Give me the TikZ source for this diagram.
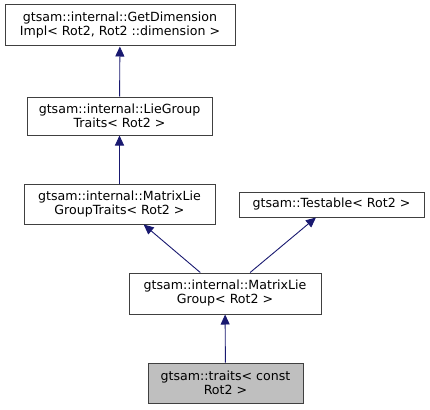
\documentclass[tikz,border=0pt]{standalone}
\usepackage{fontspec}
\setmainfont{DejaVu Sans}
\usepackage{xcolor}
\definecolor{gtBorder}{HTML}{404040}
\definecolor{gtEdge}{HTML}{191970}
\definecolor{gtFocus}{HTML}{BFBFBF}
\usepackage{tikz}
\usetikzlibrary{arrows.meta}
\tikzset{
    cls/.style={
        draw=gtBorder,
        fill=white,
        rectangle,
        align=center,
        line width=1pt,
        inner sep=0pt,
        font=\fontsize{12.6}{14}\selectfont
    },
    focus/.style={
        cls,
        fill=gtFocus
    },
    inherit/.style={
        <-,
        >={Triangle[length=10pt,width=9pt]},
        line width=0.9pt,
        color=gtEdge
    }
}
\begin{document}
\begin{tikzpicture}[x=1pt,y=-1pt]
    \useasboundingbox (0,0) rectangle (430,409);
    % Base classes
    \node[cls, minimum width=230pt, minimum height=41pt] (dimimpl) at (120,25.5) {gtsam::internal::GetDimension\\Impl< Rot2, Rot2 ::dimension >};
    \node[cls, minimum width=185pt, minimum height=38pt] (lietraits) at (119.5,116) {gtsam::internal::LieGroup\\Traits< Rot2 >};
    \node[cls, minimum width=191pt, minimum height=40pt] (mattraits) at (119.5,204) {gtsam::internal::MatrixLie\\GroupTraits< Rot2 >};
    \node[cls, minimum width=185pt, minimum height=25pt] (testable) at (331.5,204.5) {gtsam::Testable< Rot2 >};
    
    % Derived classes
    \node[cls, minimum width=192pt, minimum height=41pt] (matgroup) at (225,293.5) {gtsam::internal::MatrixLie\\Group< Rot2 >};
    \node[focus, minimum width=155pt, minimum height=40pt] (traits) at (225.5,383) {gtsam::traits< const\\Rot2 >};
    
    % Inheritance
    \draw[inherit] (dimimpl) -- (lietraits);
    \draw[inherit] (lietraits) -- (mattraits);
    \draw[inherit] (mattraits) -- (matgroup);
    \draw[inherit] (testable) -- (matgroup);
    \draw[inherit] (matgroup) -- (traits);
\end{tikzpicture}
\end{document}
